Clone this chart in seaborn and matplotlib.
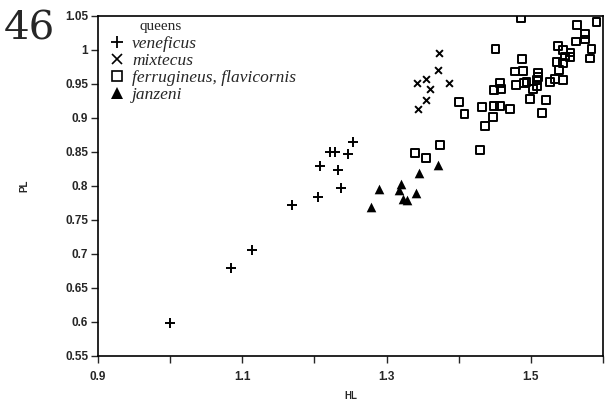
"""Queen head length vs pronotum length scatter (figure 46)."""

import matplotlib
matplotlib.use("Agg")
import matplotlib.pyplot as plt
from matplotlib.lines import Line2D
import pandas as pd
import seaborn as sns

# data
veneficus_hl = [1.000, 1.085, 1.114, 1.169, 1.205, 1.237, 1.208, 1.233, 1.221, 1.229, 1.246, 1.253]
veneficus_pl = [0.598, 0.679, 0.705, 0.771, 0.783, 0.796, 0.829, 0.823, 0.849, 0.850, 0.846, 0.864]

mixtecus_hl = [1.372, 1.371, 1.342, 1.354, 1.360, 1.386, 1.354, 1.344]
mixtecus_pl = [0.995, 0.970, 0.951, 0.957, 0.942, 0.951, 0.926, 0.913]

ferrugineus_hl = [1.339, 1.355, 1.374, 1.429, 1.486, 1.564, 1.591, 1.575, 1.575, 1.563,
                  1.451, 1.538, 1.545, 1.555, 1.584, 1.547, 1.554, 1.582, 1.488, 1.536,
                  1.544, 1.539, 1.478, 1.489, 1.510, 1.510, 1.457, 1.494, 1.491, 1.509,
                  1.533, 1.544, 1.526, 1.480, 1.508, 1.449, 1.459, 1.503, 1.499, 1.521,
                  1.401, 1.408, 1.432, 1.449, 1.457, 1.471, 1.515, 1.447, 1.436]
ferrugineus_pl = [0.848, 0.841, 0.860, 0.852, 1.046, 1.036, 1.041, 1.023, 1.015, 1.012,
                  1.001, 1.005, 0.999, 0.996, 1.001, 0.990, 0.989, 0.987, 0.986, 0.982,
                  0.981, 0.970, 0.968, 0.969, 0.966, 0.960, 0.951, 0.953, 0.951, 0.955,
                  0.957, 0.955, 0.953, 0.948, 0.947, 0.941, 0.942, 0.942, 0.928, 0.926,
                  0.923, 0.905, 0.916, 0.917, 0.917, 0.913, 0.907, 0.901, 0.888]

janzeni_hl = [1.278, 1.289, 1.317, 1.320, 1.323, 1.329, 1.341, 1.345, 1.371]
janzeni_pl = [0.768, 0.795, 0.794, 0.802, 0.780, 0.779, 0.790, 0.818, 0.830]

species = ["veneficus", "mixtecus", "ferrugineus, flavicornis", "janzeni"]

x_ticks = [0.9, 1.0, 1.1, 1.2, 1.3, 1.4, 1.5, 1.6]
x_labels = ["0.9", "", "1.1", "", "1.3", "", "1.5", ""]
y_ticks = [0.55, 0.6, 0.65, 0.7, 0.75, 0.8, 0.85, 0.9, 0.95, 1.0, 1.05]
y_labels = ["0.55", "0.6", "0.65", "0.7", "0.75", "0.8", "0.85", "0.9", "0.95", "1", "1.05"]


def make_df():
    parts = []
    for name, hl, pl in zip(species,
                            [veneficus_hl, mixtecus_hl, ferrugineus_hl, janzeni_hl],
                            [veneficus_pl, mixtecus_pl, ferrugineus_pl, janzeni_pl]):
        parts.append(pd.DataFrame({"HL": hl, "PL": pl, "species": name}))
    return pd.concat(parts, ignore_index=True)


def plot():
    sns.set_style("ticks")
    plt.rcParams["font.family"] = ["Liberation Sans", "DejaVu Sans"]

    df = make_df()
    fig = plt.figure(figsize=(6.07, 4.03), dpi=100)
    ax = fig.add_axes([0.1614, 0.1174, 0.832, 0.8436])

    sub = df[df.species == species[0]]
    sns.scatterplot(data=sub, x="HL", y="PL", marker="+", s=42, color="black",
                    linewidth=1.4, ax=ax)
    sub = df[df.species == species[1]]
    sns.scatterplot(data=sub, x="HL", y="PL", marker="x", s=24, color="black",
                    linewidth=1.4, ax=ax)
    sub = df[df.species == species[2]]
    sns.scatterplot(data=sub, x="HL", y="PL", marker="s", s=32, facecolor="none",
                    edgecolor="black", linewidth=1.4, ax=ax)
    sub = df[df.species == species[3]]
    sns.scatterplot(data=sub, x="HL", y="PL", marker="^", s=48, color="black",
                    linewidth=0, ax=ax)

    ax.set_xlim(0.9, 1.6)
    ax.set_ylim(0.55, 1.05)
    ax.set_xticks(x_ticks)
    ax.set_xticklabels(x_labels)
    ax.set_yticks(y_ticks)
    ax.set_yticklabels(y_labels)
    ax.tick_params(direction="out", length=5, width=1, labelsize=8.5)
    ax.tick_params(axis="x", pad=6)
    ax.tick_params(axis="y", pad=2)
    for lab in ax.get_xticklabels() + ax.get_yticklabels():
        lab.set_fontweight("bold")
    for sp in ax.spines.values():
        sp.set_linewidth(1.2)
        sp.set_color("black")

    ax.set_xlabel("HL", fontsize=7, fontweight="bold", labelpad=6)
    ax.set_ylabel("PL", fontsize=7, fontweight="bold", labelpad=26)

    handles = [
        Line2D([], [], marker="+", ls="", color="black", markersize=8, mew=1.3),
        Line2D([], [], marker="x", ls="", color="black", markersize=6.5, mew=1.2),
        Line2D([], [], marker="s", ls="", mfc="none", mec="black", markersize=7, mew=1.2),
        Line2D([], [], marker="^", ls="", color="black", markersize=8, mew=0),
    ]
    ax.legend(handles, species, loc="upper left",
              bbox_to_anchor=(0.023, 0.941), frameon=False,
              prop={"family": "Liberation Serif", "style": "italic", "size": 12.5},
              handlelength=0.8, handletextpad=0.5, labelspacing=0.05,
              borderpad=0, borderaxespad=0)
    ax.text(0.125, 0.9676, "queens", transform=ax.transAxes, ha="center",
            va="center", fontsize=11, family="Liberation Serif")

    fig.text(0.006, 0.975, "46", fontsize=29, family="DejaVu Serif",
             va="top", ha="left")

    fig.savefig("out.png", dpi=100)
    plt.close(fig)


if __name__ == "__main__":
    plot()
